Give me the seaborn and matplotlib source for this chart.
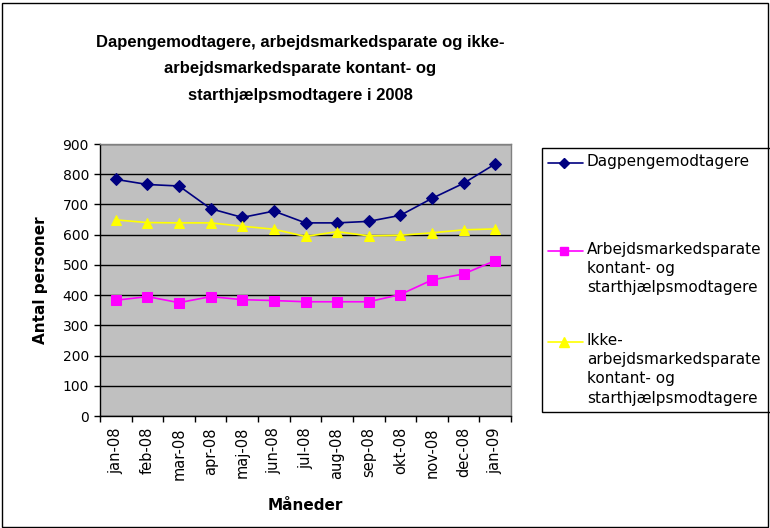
import matplotlib
matplotlib.use("Agg")
import matplotlib.pyplot as plt
import seaborn as sns
import pandas as pd
from matplotlib.lines import Line2D
from matplotlib.patches import Rectangle

months = ["jan-08", "feb-08", "mar-08", "apr-08", "maj-08", "jun-08", "jul-08",
          "aug-08", "sep-08", "okt-08", "nov-08", "dec-08", "jan-09"]
dagpenge = [783, 766, 761, 686, 657, 678, 639, 639, 644, 664, 720, 770, 834]
arbejds = [383, 395, 375, 395, 385, 382, 378, 378, 378, 402, 450, 470, 514]
ikke = [649, 640, 639, 639, 628, 618, 594, 610, 596, 598, 606, 616, 619]

names = ["Dagpengemodtagere",
         "Arbejdsmarkedsparate\nkontant- og\nstarthjælpsmodtagere",
         "Ikke-\narbejdsmarkedsparate\nkontant- og\nstarthjælpsmodtagere"]
colors = ["#000080", "#FF00FF", "#FFFF00"]
markers = ["D", "s", "^"]
msizes = [6, 6.5, 7.5]

sns.set_theme(style="white")
plt.rcParams["font.family"] = ["DejaVu Sans"]
plt.rcParams["text.color"] = "black"
plt.rcParams["axes.labelcolor"] = "black"
plt.rcParams["xtick.color"] = "black"
plt.rcParams["ytick.color"] = "black"

fig = plt.figure(figsize=(7.7, 5.28), dpi=100)
W, H = 770, 528
ax = fig.add_axes([100 / W, 1 - 416 / H, 411 / W, 272 / H])
ax.set_facecolor("#C0C0C0")

for vals, name, c, m, ms in zip([dagpenge, arbejds, ikke], names, colors, markers, msizes):
    df = pd.DataFrame({"x": range(len(months)), "y": vals})
    sns.lineplot(data=df, x="x", y="y", ax=ax, color=c, marker=m, markersize=ms,
                 markeredgecolor=c, linewidth=1.2, legend=False)

ax.set_xlim(-0.5, len(months) - 0.5)
ax.set_ylim(0, 900)
ax.set_yticks(range(0, 901, 100))
ax.tick_params(axis="y", labelsize=10, length=4, width=1, color="black", labelcolor="black",
               direction="out", left=True, pad=4)
ax.set_xticks(range(len(months)))
ax.set_xticklabels(months, rotation=90, fontsize=10.5)
ax.tick_params(axis="x", which="major", length=0, pad=8, labelcolor="black")
ax.set_xticks([i - 0.5 for i in range(len(months) + 1)], minor=True)
ax.tick_params(axis="x", which="minor", length=4, width=1, color="black", direction="out", bottom=True)
ax.yaxis.grid(True, color="black", linewidth=1)
ax.set_axisbelow(True)
for s in ["left", "bottom"]:
    ax.spines[s].set_color("black")
    ax.spines[s].set_linewidth(1)
for s in ["top", "right"]:
    ax.spines[s].set_color("#808080")
    ax.spines[s].set_linewidth(1)

ax.set_xlabel("Måneder", fontsize=11, fontweight="bold", color="black")
ax.set_ylabel("Antal personer", fontsize=11, fontweight="bold", color="black")
ax.xaxis.set_label_coords((305 - 100) / 411, -(506 - 416) / 272)
ax.yaxis.set_label_coords(-(100 - 41) / 411, (416 - 280) / 272)
ax.xaxis.label.set_va("center")
ax.yaxis.label.set_va("center")

fig.text(300 / W, 1 - 69 / H,
         "Dapengemodtagere, arbejdsmarkedsparate og ikke-\narbejdsmarkedsparate kontant- og\nstarthjælpsmodtagere i 2008",
         ha="center", va="center", fontsize=12, fontweight="bold", linespacing=1.95,
         color="black", family=["Liberation Sans", "DejaVu Sans"])

# legend box
fig.patches.append(Rectangle((542 / W, 1 - 412 / H), 240 / W, 264 / H, transform=fig.transFigure,
                             facecolor="white", edgecolor="black", linewidth=1))
entry_y = [163, 251, 342]
for y, name, c, m, ms in zip(entry_y, names, colors, markers, msizes):
    fig.lines.append(Line2D([548 / W, 583 / W], [1 - y / H, 1 - y / H], transform=fig.transFigure,
                            color=c, linewidth=1.2))
    fig.lines.append(Line2D([564 / W], [1 - y / H], transform=fig.transFigure,
                            color=c, marker=m, markersize=ms - 1, markeredgecolor=c))
    fig.text(587 / W, 1 - (y - 9) / H, name, ha="left", va="top", fontsize=11,
             linespacing=1.35, color="black")

fig.patches.append(Rectangle((1.5 / W, 1.5 / H), 766 / W, 524 / H, transform=fig.transFigure,
                             facecolor="none", edgecolor="black", linewidth=1))

fig.savefig("out.png", dpi=100)
